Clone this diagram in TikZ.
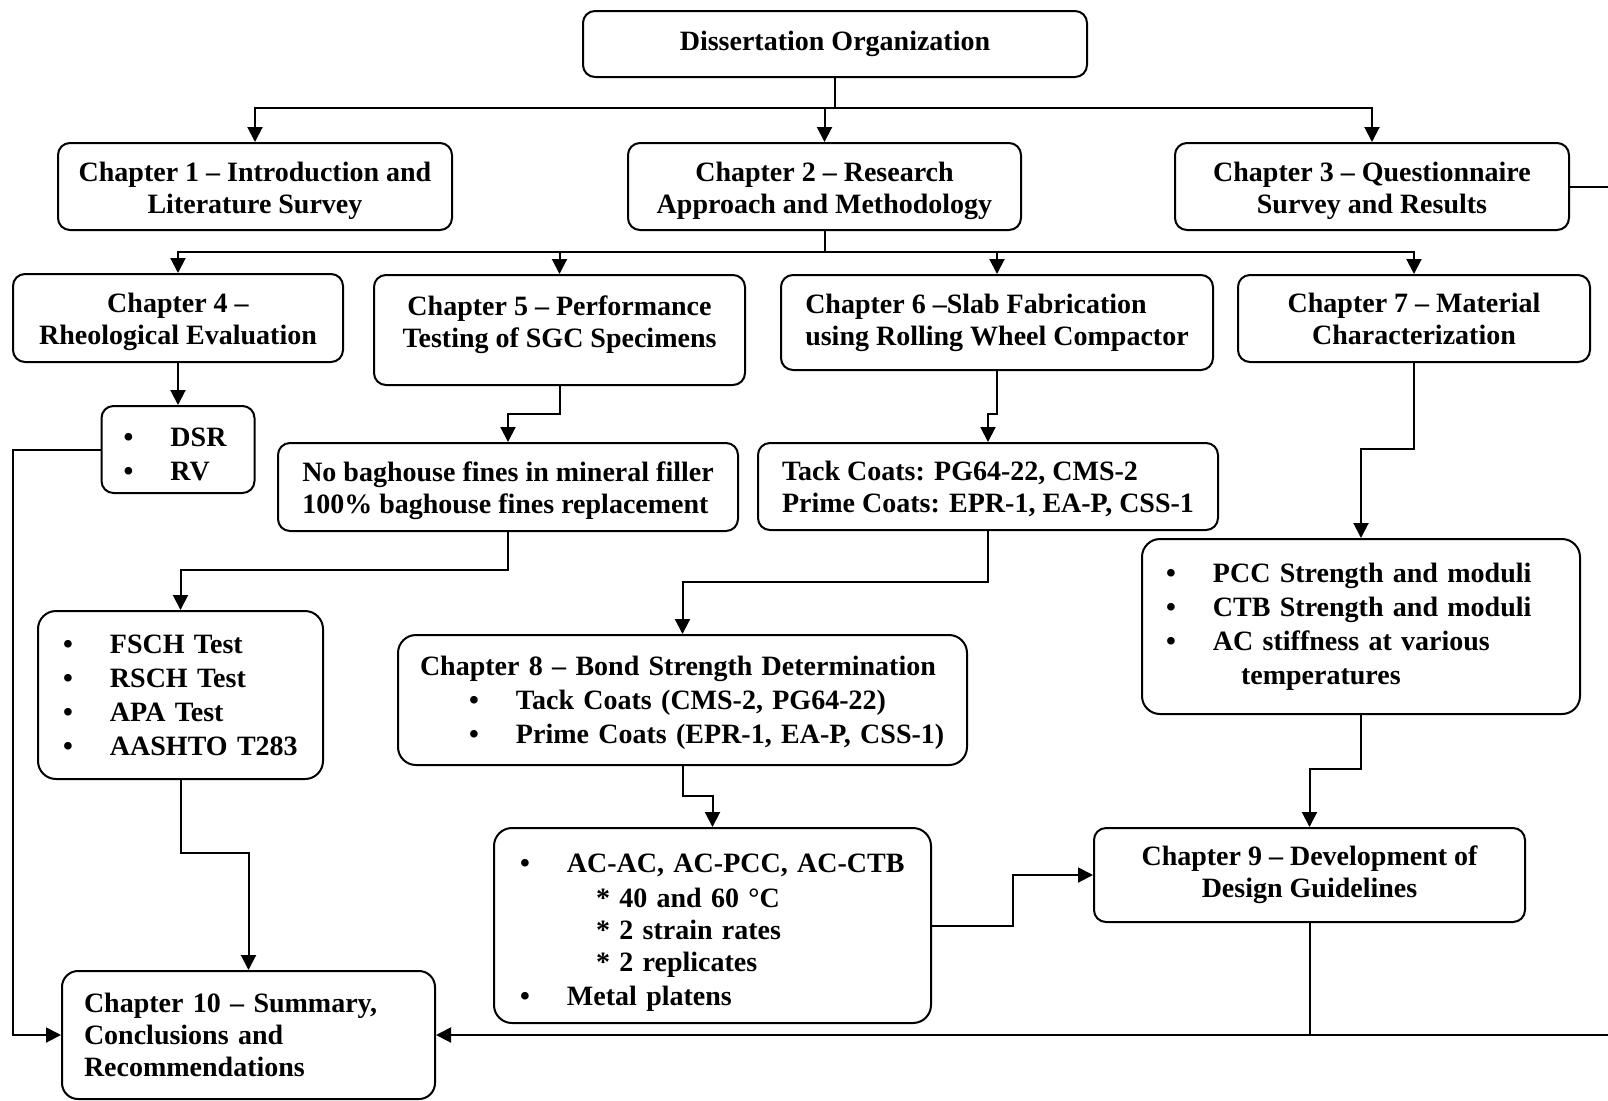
\documentclass[tikz,border=0pt]{standalone}
\usepackage{fontspec}
\setmainfont{Liberation Serif}
\usepackage{tikz}
\usetikzlibrary{arrows.meta}

\newcommand{\bul}[1]{\mbox{\makebox[23.5pt][l]{\textbullet}#1}}

\begin{document}
\begin{tikzpicture}[x=0.5pt, y=-0.5pt,
    box/.style={draw, line width=1pt, rounded corners=6pt, inner sep=0pt, align=center, font=\bfseries\fontsize{14}{16}\selectfont},
    lst/.style={box, rounded corners=9pt, align=left, font=\bfseries\fontsize{14}{17}\selectfont},
    drop/.style={execute at begin node={\rule{0pt}{#1}}},
    lift/.style={execute at end node={\rule[-#1]{0pt}{#1}}},
    conn/.style={line width=1pt},
    arr/.style={line width=1pt, -{Triangle[length=7.5pt, width=7.5pt]}}]
    \useasboundingbox (0,0) rectangle (1608,1100);

    \coordinate (busA) at (835,108);
    \coordinate (busB) at (824.5,252);
    \coordinate (j5) at (0,414);
    \coordinate (j7) at (0,449);
    \coordinate (jb) at (0,570);
    \coordinate (jt) at (0,582);
    \coordinate (jp) at (0,769);
    \coordinate (j8) at (0,796);
    \coordinate (jf) at (0,853);
    \coordinate (jl) at (13,0);
    \coordinate (ja) at (1013,0);
    \coordinate (edge) at (1608,0);

    \node[box, minimum width=252pt, minimum height=33pt] (diss) at (835,44) {Dissertation Organization};
    \node[box, drop=29.6pt, minimum width=197pt, minimum height=43.5pt] (ch1) at (255,186.5) {Chapter 1 -- Introduction and\\Literature Survey};
    \node[box, drop=29.6pt, minimum width=196.5pt, minimum height=43.5pt] (ch2) at (824.5,186.5) {Chapter 2 -- Research\\Approach and Methodology};
    \node[box, drop=29.6pt, minimum width=197pt, minimum height=43.5pt] (ch3) at (1372,186.5) {Chapter 3 -- Questionnaire\\Survey and Results};
    \node[box, drop=29.6pt, minimum width=165pt, minimum height=44pt] (ch4) at (178,318) {Chapter 4 --\\Rheological Evaluation};
    \node[box, lift=8pt, minimum width=185.5pt, minimum height=55pt] (ch5) at (559.5,330) {Chapter 5 -- Performance\\Testing of SGC Specimens};
    \node[box, align=left, minimum width=216pt, minimum height=47.5pt] (ch6) at (997,322.5) {Chapter 6 --Slab Fabrication\\using Rolling Wheel Compactor};
    \node[box, minimum width=176pt, minimum height=43.5pt] (ch7) at (1414,318.5) {Chapter 7 -- Material\\Characterization};
    \node[lst, drop=14.5pt, rounded corners=6pt, text width=54.5pt, minimum width=76.5pt, minimum height=43.5pt] (dsr) at (178,449.5) {\bul{DSR}\\\bul{RV}};
    \node[box, drop=29.7pt, align=left, minimum width=230pt, minimum height=44pt] (bag) at (508,487) {No baghouse fines in mineral filler\\100\% baghouse fines replacement};
    \node[box, drop=28.6pt, align=left, minimum width=230pt, minimum height=43.5pt] (tack) at (988,486.5) {Tack Coats: PG64-22, CMS-2\\Prime Coats: EPR-1, EA-P, CSS-1};
    \node[lst, text width=195pt, minimum width=219pt, minimum height=87.5pt] (pcc) at (1361,626.5) {\bul{PCC Strength and moduli}\\\bul{CTB Strength and moduli}\\\bul{AC stiffness at various}\\\hspace*{37.5pt}temperatures};
    \node[lst, text width=117.5pt, minimum width=142.5pt, minimum height=84pt] (fsch) at (180.5,695) {\bul{FSCH Test}\\\bul{RSCH Test}\\\bul{APA Test}\\\bul{AASHTO T283}};
    \node[lst, drop=12.5pt, text width=262.5pt, minimum width=284.5pt, minimum height=65pt] (ch8) at (682.5,700) {Chapter 8 -- Bond Strength Determination\\\hspace*{24.5pt}\bul{Tack Coats (CMS-2, PG64-22)}\\\hspace*{24.5pt}\bul{Prime Coats (EPR-1, EA-P, CSS-1)}};
    \node[lst, drop=16pt, font=\bfseries\fontsize{14}{16}\selectfont, text width=192.5pt, minimum width=218.5pt, minimum height=97.5pt] (ac) at (712.5,925.5) {\bul{AC-AC, AC-PCC, AC-CTB}\\[1.5pt]\hspace*{38pt}* 40 and 60 °C\\\hspace*{38pt}* 2 strain rates\\\hspace*{38pt}* 2 replicates\\[1pt]\bul{Metal platens}};
    \node[box, minimum width=215.5pt, minimum height=47pt] (ch9) at (1309.5,875) {Chapter 9 -- Development of\\Design Guidelines};
    \node[box, rounded corners=8pt, align=left, text width=164.5pt, minimum width=186.5pt, minimum height=64pt] (ch10) at (248.5,1035) {Chapter 10 -- Summary,\\Conclusions and\\Recommendations};

    \draw[conn] (diss.south) -- (busA);
    \draw[arr] (busA) -| (ch1.north);
    \draw[arr] (busA -| ch2.north) -- (ch2.north);
    \draw[arr] (busA) -| (ch3.north);
    \draw[conn] (ch3.east) -- (ch3.east -| edge);

    \draw[conn] (ch2.south) -- (busB);
    \draw[arr] (busB) -| (ch4.north);
    \draw[arr] (busB -| ch5.north) -- (ch5.north);
    \draw[arr] (busB -| ch6.north) -- (ch6.north);
    \draw[arr] (busB) -| (ch7.north);

    \draw[arr] (ch4.south) -- (dsr.north);
    \draw[arr] (ch5.south) -- (ch5.south |- j5) -| (bag.north);
    \draw[arr] (ch6.south) -- (ch6.south |- j5) -| (tack.north);
    \draw[arr] (ch7.south) -- (ch7.south |- j7) -| (pcc.north);
    \draw[arr] (bag.south) -- (bag.south |- jb) -| (fsch.north);
    \draw[arr] (tack.south) -- (tack.south |- jt) -| (ch8.north);
    \draw[arr] (ch8.south) -- (ch8.south |- j8) -| (ac.north);
    \draw[arr] (pcc.south) -- (pcc.south |- jp) -| (ch9.north);
    \draw[arr] (ac.east) -- (ac.east -| ja) |- (ch9.west);
    \draw[arr] (fsch.south) -- (fsch.south |- jf) -| (ch10.north);
    \draw[arr] (dsr.west) -- (dsr.west -| jl) |- (ch10.west);
    \draw[conn] (ch9.south) -- (ch9.south |- ch10.east);
    \draw[arr] (ch10.east -| edge) -- (ch10.east);
\end{tikzpicture}
\end{document}
